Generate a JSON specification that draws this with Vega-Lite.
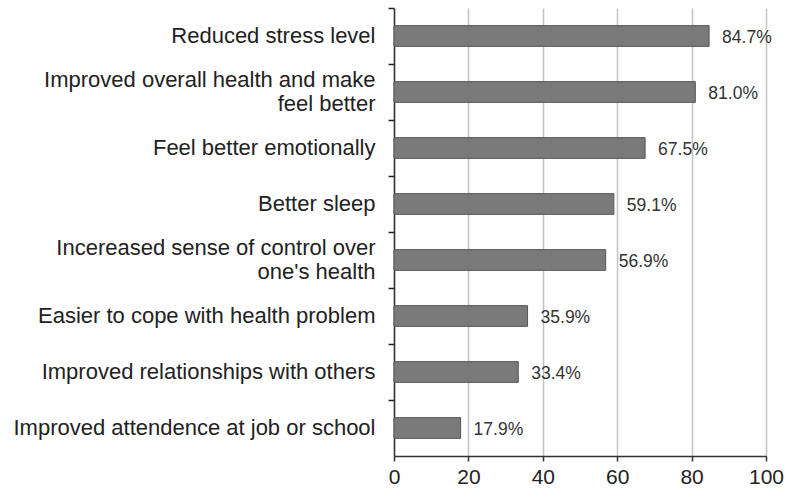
{
  "$schema": "https://vega.github.io/schema/vega-lite/v6.json",
  "width": 372,
  "height": 448,
  "autosize": "none",
  "padding": {"left": 394, "top": 8, "right": 20, "bottom": 36},
  "background": "white",
  "config": {
    "view": {"stroke": null},
    "font": "Liberation Sans"
  },
  "data": {
    "values": [
      {"benefit": "Reduced stress level", "pct": 84.7},
      {"benefit": "Improved overall health and make\nfeel better", "pct": 81.0},
      {"benefit": "Feel better emotionally", "pct": 67.5},
      {"benefit": "Better sleep", "pct": 59.1},
      {"benefit": "Incereased sense of control over\none's health", "pct": 56.9},
      {"benefit": "Easier to cope with health problem", "pct": 35.9},
      {"benefit": "Improved relationships with others", "pct": 33.4},
      {"benefit": "Improved attendence at job or school", "pct": 17.9}
    ]
  },
  "transform": [
    {"calculate": "format(datum.pct, '.1f') + '%'", "as": "pctLabel"}
  ],
  "encoding": {
    "y": {
      "field": "benefit",
      "type": "nominal",
      "sort": null,
      "title": null,
      "scale": {"paddingInner": 0, "paddingOuter": 0},
      "axis": {
        "ticks": true,
        "bandPosition": 0,
        "tickSize": 6,
        "tickWidth": 1.5,
        "tickColor": "#222",
        "domainColor": "#333",
        "domainWidth": 1.5,
        "labelFont": "Liberation Sans",
        "labelFontSize": 22,
        "labelColor": "#222",
        "labelPadding": 13,
        "labelLimit": 400,
        "labelLineHeight": 24,
        "labelOffset": {"condition": {"test": "indexof(datum.label, '\\n') >= 0", "value": -12}, "value": 0},
        "labelExpr": "split(datum.label, '\\n')",
        "grid": false
      }
    },
    "x": {
      "field": "pct",
      "type": "quantitative",
      "title": null,
      "scale": {"domain": [0, 100], "nice": false},
      "axis": {
        "values": [0, 20, 40, 60, 80, 100],
        "tickSize": 5,
        "tickWidth": 1.5,
        "tickColor": "#333",
        "domainColor": "#333",
        "domainWidth": 1.5,
        "grid": true,
        "gridColor": "#c4c4c4",
        "gridWidth": 1.5,
        "labelFont": "Liberation Sans",
        "labelFontSize": 21,
        "labelColor": "#222",
        "labelPadding": 5,
        "labelFlush": false
      }
    }
  },
  "layer": [
    {
      "mark": {"type": "bar", "color": "#7a7a7a", "stroke": "#555", "strokeWidth": 1, "height": {"band": 0.37}}
    },
    {
      "mark": {"type": "text", "align": "left", "baseline": "middle", "dx": 13, "dy": 2, "fontSize": 17.5, "color": "#333", "font": "Liberation Sans"},
      "encoding": {
        "text": {"field": "pctLabel", "type": "nominal"}
      }
    }
  ]
}
